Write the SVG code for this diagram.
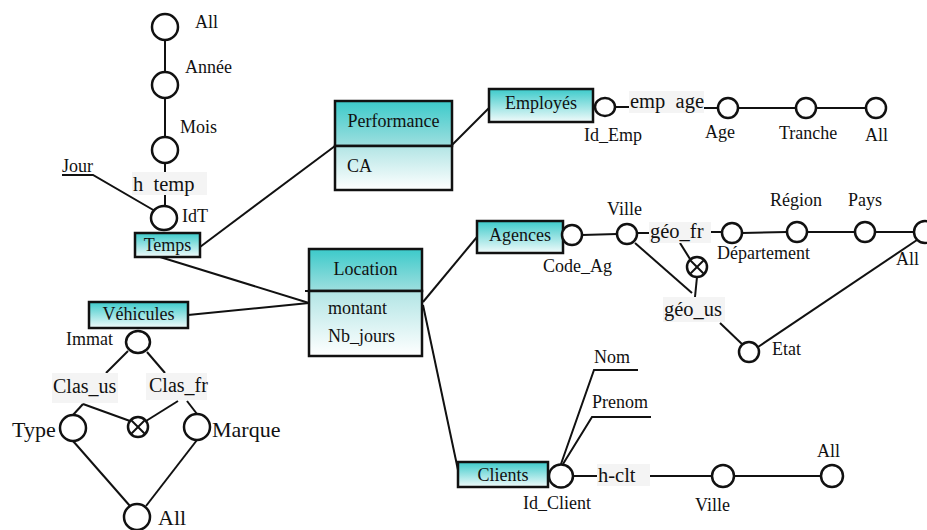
<svg xmlns="http://www.w3.org/2000/svg" width="927" height="530" viewBox="0 0 927 530">
<defs>
<linearGradient id="gs" x1="0" y1="0" x2="0" y2="1"><stop offset="0" stop-color="#3ccaca"/><stop offset="1" stop-color="#f2fbfb"/></linearGradient>
<linearGradient id="gt" x1="0" y1="0" x2="0" y2="1"><stop offset="0" stop-color="#3ccaca"/><stop offset="1" stop-color="#9edfdf"/></linearGradient>
<linearGradient id="ga" x1="0" y1="0" x2="0" y2="1"><stop offset="0" stop-color="#b2e5e5"/><stop offset="1" stop-color="#ffffff"/></linearGradient>
</defs>
<style>
text{font-family:"Liberation Serif","Times New Roman",serif;font-size:18px;fill:#111}
.c{text-anchor:middle}
.h{font-size:20.5px;white-space:pre}
.b{font-size:22px}
.box{stroke:#111;stroke-width:2.5}
.n{fill:#fff;stroke:#111;stroke-width:2.5}
.lb{fill:#f4f4f4}
#connectors line,#connectors polyline{stroke:#111;stroke-width:2;fill:none}
.x{stroke:#111;stroke-width:2}
</style>
<rect width="927" height="530" fill="#fff"/>
<g id="connectors">
<line x1="165" y1="40" x2="165" y2="72"/>
<line x1="165" y1="98" x2="165" y2="137"/>
<line x1="165" y1="163" x2="165" y2="172"/>
<line x1="165" y1="195" x2="165" y2="206"/>
<polyline points="62,175 93,175 155,211"/>
<line x1="200" y1="247" x2="335" y2="146"/>
<line x1="160" y1="257" x2="309" y2="303"/>
<line x1="452" y1="145" x2="489" y2="108"/>
<line x1="615" y1="107" x2="629" y2="107"/>
<line x1="704" y1="108" x2="718" y2="108"/>
<line x1="738" y1="108" x2="796" y2="108"/>
<line x1="816" y1="108" x2="866" y2="108"/>
<line x1="188" y1="315" x2="309" y2="303"/>
<line x1="423" y1="302" x2="477" y2="237"/>
<line x1="423" y1="305" x2="458" y2="470"/>
<line x1="582" y1="235" x2="617" y2="234"/>
<line x1="637" y1="233" x2="649" y2="233"/>
<line x1="711" y1="232" x2="722" y2="232"/>
<line x1="742" y1="233" x2="787" y2="232"/>
<line x1="807" y1="232" x2="855" y2="232"/>
<line x1="875" y1="232" x2="914" y2="232"/>
<line x1="680" y1="243" x2="690" y2="259"/>
<line x1="697" y1="277" x2="695" y2="297"/>
<line x1="635" y1="243" x2="692" y2="293"/>
<line x1="720" y1="323" x2="743" y2="345"/>
<line x1="758" y1="347" x2="917" y2="240"/>
<polyline points="638,370 594,370 561,464"/>
<polyline points="651,417 592,417 563,464"/>
<line x1="573" y1="476" x2="597" y2="476"/>
<line x1="650" y1="476" x2="712" y2="476"/>
<line x1="734" y1="476" x2="821" y2="476"/>
<line x1="128" y1="351" x2="106" y2="373"/>
<line x1="147" y1="352" x2="165" y2="373"/>
<line x1="83" y1="404" x2="73" y2="415"/>
<line x1="83" y1="404" x2="130" y2="421"/>
<line x1="178" y1="401" x2="146" y2="421"/>
<line x1="187" y1="401" x2="197" y2="414"/>
<line x1="73" y1="441" x2="130" y2="506"/>
<line x1="197" y1="440" x2="146" y2="506"/>
</g>
<!-- Temps hierarchy -->
<g id="t_all"><circle class="n" cx="165" cy="27" r="13"/><text x="195" y="28">All</text></g>
<g id="t_annee"><circle class="n" cx="165" cy="85" r="13"/><text x="185" y="73">Année</text></g>
<g id="t_mois"><circle class="n" cx="165" cy="150" r="13"/><text x="180" y="133">Mois</text></g>
<g id="t_htemp"><rect class="lb" x="132" y="172" width="75" height="23"/><text class="h" x="133" y="191">h  temp</text></g>
<g id="t_idt"><ellipse class="n" cx="164" cy="218" rx="13" ry="12"/><text x="182" y="222">IdT</text></g>
<g id="t_jour"><text x="62" y="172">Jour</text></g>
<g id="temps"><rect class="box" x="135" y="233" width="65" height="24" fill="url(#gs)"/><text class="c" x="167.5" y="251">Temps</text></g>
<!-- Performance -->
<g id="performance"><rect class="box" x="335" y="101" width="117" height="45" fill="url(#gt)"/><rect class="box" x="335" y="146" width="117" height="44" fill="url(#ga)"/><text class="c" x="393.5" y="127">Performance</text><text x="347" y="172">CA</text></g>
<g id="employes"><rect class="box" x="489" y="89" width="104" height="33" fill="url(#gs)"/><text class="c" x="541" y="109">Employés</text></g>
<g id="e_id"><ellipse class="n" cx="605" cy="107" rx="10" ry="9"/><text x="584" y="141">Id_Emp</text></g>
<g id="e_h"><rect class="lb" x="629" y="91" width="75" height="22"/><text class="h" x="630" y="108">emp  age</text></g>
<g id="e_age"><circle class="n" cx="728" cy="108" r="10"/><text x="705" y="138">Age</text></g>
<g id="e_tranche"><circle class="n" cx="806" cy="108" r="10"/><text x="779" y="139">Tranche</text></g>
<g id="e_all"><circle class="n" cx="876" cy="108" r="10"/><text x="865" y="141">All</text></g>
<!-- Location -->
<g id="location"><rect class="box" x="309" y="249" width="113" height="42" fill="url(#gt)"/><rect class="box" x="309" y="291" width="113" height="65" fill="url(#ga)"/><line class="x" x1="305" y1="291" x2="310" y2="291"/><text class="c" x="365.5" y="275">Location</text><text x="328" y="314">montant</text><text x="328" y="342">Nb_jours</text></g>
<!-- Agences -->
<g id="agences"><rect class="box" x="477" y="221" width="86" height="32" fill="url(#gs)"/><text class="c" x="520" y="241">Agences</text></g>
<g id="a_code"><circle class="n" cx="572" cy="235" r="10"/><text x="543" y="272">Code_Ag</text></g>
<g id="a_ville"><circle class="n" cx="627" cy="234" r="10"/><text x="607" y="215">Ville</text></g>
<g id="a_geofr"><rect class="lb" x="649" y="222" width="62" height="21"/><text class="h" x="650" y="238">géo_fr</text></g>
<g id="a_dep"><circle class="n" cx="732" cy="233" r="10"/><text x="717" y="259">Département</text></g>
<g id="a_region"><circle class="n" cx="797" cy="232" r="10"/><text x="770" y="206">Région</text></g>
<g id="a_pays"><circle class="n" cx="865" cy="232" r="10"/><text x="848" y="206">Pays</text></g>
<g id="a_all"><circle class="n" cx="925" cy="232" r="11"/><text x="896" y="265">All</text></g>
<g id="a_x"><circle class="n" cx="697" cy="267" r="10"/><line class="x" x1="690" y1="260" x2="704" y2="274"/><line class="x" x1="704" y1="260" x2="690" y2="274"/></g>
<g id="a_geous"><rect class="lb" x="663" y="297" width="62" height="25"/><text class="h" x="664" y="316">géo_us</text></g>
<g id="a_etat"><circle class="n" cx="749" cy="352" r="10"/><text x="772" y="355">Etat</text></g>
<!-- Clients -->
<g id="clients"><rect class="box" x="458" y="462" width="90" height="25" fill="url(#gs)"/><text class="c" x="503" y="481">Clients</text></g>
<g id="c_id"><ellipse class="n" cx="561" cy="476" rx="12" ry="11.5"/><text x="523" y="509">Id_Client</text></g>
<g id="c_nom"><text x="594" y="363">Nom</text></g>
<g id="c_prenom"><text x="592" y="408">Prenom</text></g>
<g id="c_h"><rect class="lb" x="597" y="464" width="53" height="22"/><text class="h" x="598" y="482">h-clt</text></g>
<g id="c_ville"><circle class="n" cx="723" cy="476" r="11"/><text x="695" y="511">Ville</text></g>
<g id="c_all"><circle class="n" cx="832" cy="476" r="11"/><text x="817" y="457">All</text></g>
<!-- Vehicules -->
<g id="vehicules"><rect class="box" x="89" y="302" width="99" height="26" fill="url(#gs)"/><text class="c" x="138.5" y="320">Véhicules</text></g>
<g id="v_immat"><ellipse class="n" cx="138" cy="342" rx="12" ry="11"/><text x="66" y="345">Immat</text></g>
<g id="v_clasus"><rect class="lb" x="52" y="373" width="66" height="30"/><text x="53" y="393" style="font-size:20px">Clas_us</text></g>
<g id="v_clasfr"><rect class="lb" x="146" y="373" width="61" height="27"/><text x="149" y="392" style="font-size:20px">Clas_fr</text></g>
<g id="v_x"><circle class="n" cx="138" cy="427" r="10"/><line class="x" x1="131" y1="420" x2="145" y2="434"/><line class="x" x1="145" y1="420" x2="131" y2="434"/></g>
<g id="v_type"><circle class="n" cx="73" cy="428" r="13"/><text class="b" x="12" y="437">Type</text></g>
<g id="v_marque"><circle class="n" cx="197" cy="427" r="13"/><text class="b" x="212" y="437">Marque</text></g>
<g id="v_all"><circle class="n" cx="137" cy="517" r="13"/><text class="b" x="158" y="525">All</text></g>
</svg>
